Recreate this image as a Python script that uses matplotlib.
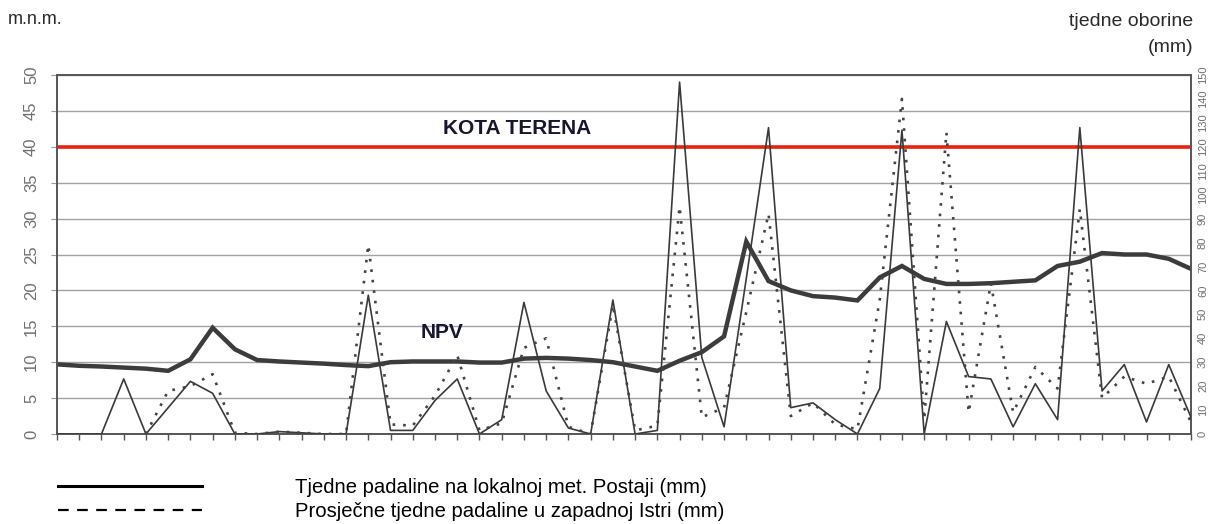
import numpy as np
import matplotlib
matplotlib.use("Agg")
import matplotlib.pyplot as plt
from matplotlib.lines import Line2D

# weekly series, 52 weeks
weeks = np.arange(52)

# groundwater level NPV (m.n.m.)
npv = [9.7, 9.5, 9.4, 9.25, 9.1, 8.8, 10.4, 14.8, 11.8, 10.3,
       10.1, 9.95, 9.8, 9.6, 9.45, 10.0, 10.1, 10.1, 10.1, 9.95,
       9.95, 10.5, 10.6, 10.5, 10.3, 10.0, 9.4, 8.8, 10.2, 11.4,
       13.6, 26.8, 21.3, 20.0, 19.2, 19.0, 18.6, 21.8, 23.4, 21.6,
       20.9, 20.9, 21.0, 21.2, 21.4, 23.4, 24.0, 25.2, 25.0, 25.0,
       24.4, 23.0]

# weekly rain at the local station (mm)
rain_local = [0, 0, 0, 23, 0, 11, 22, 17, 0, 0,
              1, 0.5, 0, 0, 58, 1.5, 1.5, 14, 23, 0,
              6, 55, 18, 2.5, 0, 56, 0, 1.5, 147, 32,
              3, 65, 128, 11, 13, 6, 0, 19, 127, 0,
              47, 24, 23, 3, 21, 6, 128, 18, 29, 5,
              29, 7]

# average weekly rain in western Istria (mm)
rain_istra = [np.nan, np.nan, np.nan, np.nan, 0, 18, 20, 25, 0.5, 0,
              1, 0.5, 0, 0, 79, 4, 3.5, 16, 33, 1.5,
              4.5, 36, 40, 3, 0, 54, 1.5, 3.5, 95, 7,
              11, 51, 92, 7.5, 13, 4, 2, 56, 140, 6,
              126, 9, 63, 9, 28, 19, 94, 15, 24, 21,
              24, 5]

kota_terena = 40
left_ticks = list(range(0, 51, 5))
right_ticks = list(range(0, 151, 10))

legend_labels = ["Tjedne padaline na lokalnoj met. Postaji (mm)",
                 "Prosječne tjedne padaline u zapadnoj Istri (mm)"]

plt.rcParams["font.family"] = ["Liberation Sans", "DejaVu Sans"]

W, H = 1213, 524
fig = plt.figure(figsize=(W / 100, H / 100), dpi=100)
ax = fig.add_axes([57 / W, 1 - 434 / H, (1191 - 57) / W, (434 - 75) / H])

ax.set_xlim(0, 51)
ax.set_ylim(0, 50)
ax.set_xticks(weeks)
ax.set_yticks(left_ticks)
ax.yaxis.grid(True, color="#a3a3a3", lw=1.0)
ax.set_axisbelow(True)
ax.tick_params(axis="x", direction="out", length=4, width=1, color="#555555",
               labelbottom=False)
ax.tick_params(axis="y", length=4, width=0.8, color="#999999", pad=9,
               labelsize=12, labelcolor="#707070")
for lab in ax.get_yticklabels():
    lab.set_rotation(90)
    lab.set_va("center")
    lab.set_ha("right")
for s in ax.spines.values():
    s.set_color("#555555")
    s.set_linewidth(1.2)

ax.axhline(kota_terena, color="#e8220f", lw=2.6, zorder=3)
ax.plot(weeks, npv, color="#3c3c3c", lw=3.2, solid_joinstyle="miter", zorder=4)

ax.text(20.7, 42.6, "KOTA TERENA", ha="center", va="center", fontsize=15,
        fontweight="bold", color="#16162e")
ax.text(17.3, 14.1, "NPV", ha="center", va="center", fontsize=15,
        fontweight="bold", color="#16162e")

ax2 = ax.twinx()
ax2.set_ylim(0, 150)
ax2.set_yticks(right_ticks)
ax2.tick_params(axis="y", length=0, pad=5, labelsize=8, labelcolor="#707070")
for lab in ax2.get_yticklabels():
    lab.set_rotation(90)
    lab.set_va("center")
    lab.set_ha("left")
for s in ax2.spines.values():
    s.set_color("#555555")
    s.set_linewidth(1.2)

ax2.plot(weeks, rain_local, color="#3a3a3a", lw=1.2, zorder=3)
ax2.plot(weeks, rain_istra, color="#444444", lw=1.9, linestyle=(0, (1, 3.0)),
         dash_capstyle="butt", zorder=3)

fig.text(8 / W, 1 - 20 / H, "m.n.m.", ha="left", va="center", fontsize=13,
         color="#2a2a2a")
fig.text(1193 / W, 1 - 22 / H, "tjedne oborine", ha="right", va="center",
         fontsize=14, color="#2a2a2a")
fig.text(1193 / W, 1 - 47 / H, "(mm)", ha="right", va="center",
         fontsize=14, color="#2a2a2a")

handles = [Line2D([], [], color="black", lw=2.2),
           Line2D([], [], color="black", lw=1.6, linestyle=(0, (4.8, 3.8)))]
fig.legend(handles, legend_labels, loc="upper left",
           bbox_to_anchor=(58 / W, 1 - 478 / H), frameon=False,
           handlelength=7.1, handletextpad=4.6, labelspacing=0.25,
           borderpad=0, borderaxespad=0,
           prop={"size": 14.6})

fig.savefig("out.png", dpi=100, facecolor="white")
